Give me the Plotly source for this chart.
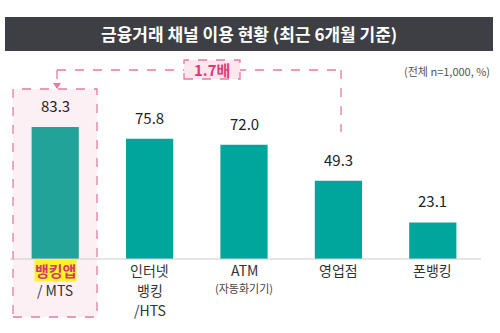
import plotly.graph_objects as go

categories = ["뱅킹앱 / MTS", "인터넷 뱅킹 /HTS", "ATM (자동화기기)", "영업점", "폰뱅킹"]
values = [83.3, 75.8, 72.0, 49.3, 23.1]
label_lines = [["뱅킹앱", "/ MTS"], ["인터넷", "뱅킹", "/HTS"], ["ATM", "(자동화기기)"], ["영업점"], ["폰뱅킹"]]
value_text = ["83.3", "75.8", "72.0", "49.3", "23.1"]
title_text = "금융거래 채널 이용 현황 (최근 6개월 기준)"
note_text = "(전체 n=1,000, %)"
ratio_text = "1.7배"

W, H = 500, 333
L, R, T, B = 8, 20, 80, 74
PW, PH = W - L - R, H - T - B
YMAX = 112.9

def px(x):
    return (x - L) / PW

def py(y):
    return (H - B - y) / PH

FONT = "Noto Sans CJK KR"
PINK = "#e67aa0"
TEAL = "#00a59b"

colors = ["#21a39a"] + [TEAL] * 4

fig = go.Figure()
fig.add_trace(go.Bar(x=list(range(len(values))), y=values, width=0.5,
                     marker=dict(color=colors, line=dict(width=0)), hoverinfo="skip"))

shapes = []
annotations = []

def ann(**kw):
    kw.setdefault("xanchor", "center")
    kw.setdefault("yanchor", "middle")
    kw.setdefault("showarrow", False)
    annotations.append(kw)

# title bar
shapes.append(dict(type="rect", xref="paper", yref="paper", x0=px(5), x1=px(493), y0=py(51), y1=py(17),
                   fillcolor="#3d3f44", line=dict(width=0), layer="below"))
ann(xref="paper", yref="paper", x=px(249), y=py(34), text="<b>" + title_text + "</b>",
    font=dict(family=FONT, size=17, color="white"))
ann(xref="paper", yref="paper", x=px(492), y=py(71), text=note_text, xanchor="right",
    font=dict(family=FONT, size=11, color="#555555"))

# highlight box around first bar
shapes.append(dict(type="rect", xref="paper", yref="paper", x0=px(13), x1=px(97), y0=py(317), y1=py(89),
                   fillcolor="#fdf0f5", line=dict(color=PINK, width=1.3, dash="dash"), layer="below"))

# connector lines
shapes.append(dict(type="line", xref="paper", yref="paper", x0=px(57), x1=px(341), y0=py(70), y1=py(70),
                   line=dict(color=PINK, width=1.3, dash="dash")))
shapes.append(dict(type="line", xref="paper", yref="paper", x0=px(341), x1=px(341), y0=py(70), y1=py(132),
                   line=dict(color=PINK, width=1.3, dash="dash")))
shapes.append(dict(type="line", xref="paper", yref="paper", x0=px(57), x1=px(57), y0=py(70), y1=py(84),
                   line=dict(color=PINK, width=1.3, dash="dash")))
shapes.append(dict(type="path", xref="paper", yref="paper",
                   path=f"M {px(53)} {py(83)} L {px(61)} {py(83)} L {px(57)} {py(89)} Z",
                   fillcolor=PINK, line=dict(width=0)))
# ratio label box
shapes.append(dict(type="rect", xref="paper", yref="paper", x0=px(184), x1=px(240), y0=py(79), y1=py(60),
                   fillcolor="#fde6ee", line=dict(color=PINK, width=1.3, dash="dash")))
ann(xref="paper", yref="paper", x=px(212), y=py(69.5), text="<b>" + ratio_text + "</b>",
    font=dict(family=FONT, size=15, color="#dc3a76"))

# baseline
shapes.append(dict(type="line", xref="paper", yref="paper", x0=px(10), x1=px(481), y0=0, y1=0,
                   line=dict(color="#cccccc", width=1)))

# value labels
for i, (v, t) in enumerate(zip(values, value_text)):
    ann(x=i, y=v, xref="x", yref="y", text=t, yanchor="bottom",
        yshift=9, font=dict(family=FONT, size=15, color="#222222"))

# category labels
for i, lines in enumerate(label_lines):
    for j, line in enumerate(lines):
        if i == 0 and j == 0:
            ann(x=i, xref="x", yref="paper", y=py(270), text="<b>" + line + "</b>",
                bgcolor="#fff22a", borderpad=0,
                font=dict(family=FONT, size=15, color="#d23a6e"))
        elif i == 2 and j == 1:
            ann(x=i, xref="x", yref="paper", y=py(288), text=line,
                font=dict(family=FONT, size=11, color="#444444"))
        else:
            ann(x=i, xref="x", yref="paper", y=py(270 + 20 * j), text=line,
                font=dict(family=FONT, size=14, color="#333333"))

fig.update_layout(
    width=W, height=H, margin=dict(l=L, r=R, t=T, b=B),
    paper_bgcolor="white", plot_bgcolor="rgba(0,0,0,0)",
    showlegend=False, bargap=0.5,
    xaxis=dict(range=[-0.5, 4.5], showticklabels=False, showgrid=False, zeroline=False, showline=False),
    yaxis=dict(range=[0, YMAX], visible=False),
    shapes=shapes, annotations=annotations,
)

fig.write_html("out.html")
